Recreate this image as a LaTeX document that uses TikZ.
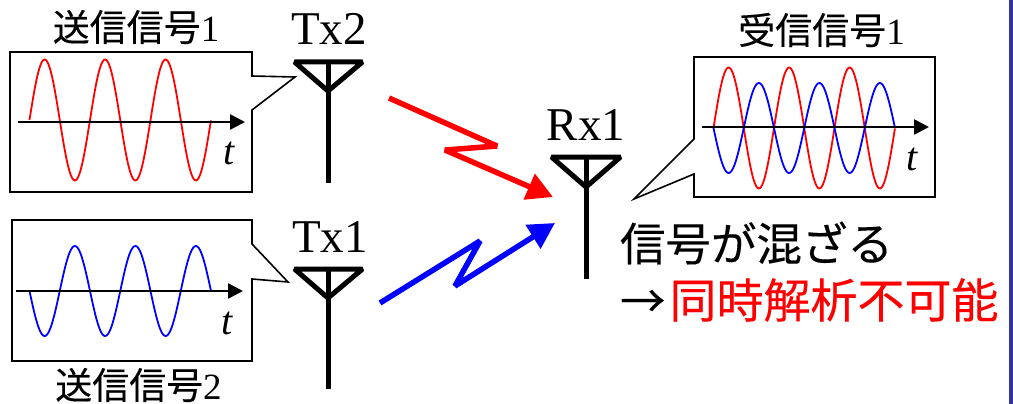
\documentclass[tikz,border=0pt]{standalone}
\usepackage{fontspec}
\setmainfont{Liberation Serif}
\newfontfamily\cjk[FakeBold=0.25]{Noto Sans CJK JP}
\usetikzlibrary{arrows.meta}
\tikzset{
  sigbox/.style={draw=black,line width=1.6pt,fill=white,line join=miter},
  axisline/.style={draw=black,line width=2.6pt,-{Triangle[length=15pt,width=15pt]}},
  antenna/.style={draw=black,line width=5pt,line join=bevel,line cap=butt},
  redwave/.style={draw=red,line width=1.8pt},
  bluewave/.style={draw=blue,line width=1.8pt},
  zigred/.style={draw=red,line width=5.5pt,line join=bevel,-{Triangle[length=26pt,width=27pt]}},
  zigblue/.style={draw=blue,line width=5.5pt,line join=bevel,-{Triangle[length=26pt,width=27pt]}},
  lab/.style={inner sep=0pt,outer sep=0pt,anchor=center},
  title/.style={lab,font=\fontsize{37}{40}\selectfont},
  antlabel/.style={lab,anchor=base,font=\fontsize{47}{50}\selectfont},
  tlabel/.style={lab,font=\fontsize{40}{44}\selectfont\itshape},
  bigtext/.style={inner sep=0pt,outer sep=0pt,anchor=west,font=\fontsize{45.5}{50}\selectfont}
}
\begin{document}
\begin{tikzpicture}[x=1pt,y=-1pt]
\useasboundingbox (0,0) rectangle (1013,404);
\fill[white] (0,0) rectangle (1013,404);
\fill[fill={rgb,255:red,51;green,51;blue,153}] (1009,0) rectangle (1013,404);

% titles
\node[title] (t1) at (136,27) {\cjk 送信信号\rmfamily 1};
\node[title] (t2) at (138.5,385) {\cjk 送信信号\rmfamily 2};
\node[title] (t3) at (821.5,30) {\cjk 受信信号\rmfamily 1};

% boxes with callouts
\draw[sigbox] (10,52) -- (252,52) -- (252,76) -- (295,77) -- (252,110) -- (252,192) -- (10,192) -- cycle;
\draw[sigbox] (12,220) -- (252,220) -- (252,244) -- (288,282) -- (252,279) -- (252,361) -- (12,361) -- cycle;
\draw[sigbox] (694,57) -- (935,57) -- (935,197) -- (694,197) -- (694,174) -- (634,199) -- (694,139) -- cycle;

% waves
\draw[redwave] plot[domain=0:3,samples=150] ({29.5+60.5*\x},{120-60.5*sin(360*\x)});
\draw[bluewave] plot[domain=0:3,samples=150] ({29.5+60.5*\x},{291+45*sin(360*\x)});
\draw[redwave] plot[domain=0:3,samples=150] ({713.5+60.5*\x},{128-60.5*sin(360*\x)});
\draw[bluewave] plot[domain=0:3,samples=150] ({713.5+60.5*\x},{128+45*sin(360*\x)});

% axes
\coordinate (a1s) at (18,122); \coordinate (a1e) at (245,122);
\coordinate (a2s) at (16,291); \coordinate (a2e) at (243,291);
\coordinate (a3s) at (702,127); \coordinate (a3e) at (929,127);
\draw[axisline] (a1s) -- (a1e);
\draw[axisline] (a2s) -- (a2e);
\draw[axisline] (a3s) -- (a3e);
\node[tlabel] (lt1) at (229,153) {t};
\node[tlabel] (lt2) at (227,323) {t};
\node[tlabel] (lt3) at (912,159) {t};

% antennas
\draw[antenna] (294.5,62) -- (362.5,62) -- (328,91) -- cycle;
\draw[antenna] (328,62) -- (328,183);
\draw[antenna] (294.5,269) -- (362.5,269) -- (328,298) -- cycle;
\draw[antenna] (328,269) -- (328,389);
\draw[antenna] (551.5,157) -- (620.5,157) -- (586,187) -- cycle;
\draw[antenna] (586,157) -- (586,279);

\node[antlabel] (tx2) at (329,45) {Tx2};
\node[antlabel] (tx1) at (330,252) {Tx1};
\node[antlabel] (rx1) at (586,140) {Rx1};

% zigzag arrows
\coordinate (r0) at (389,98); \coordinate (r1) at (497,146); \coordinate (r2) at (445,150); \coordinate (r3) at (553,197);
\coordinate (b0) at (380,303); \coordinate (b1) at (480,241); \coordinate (b2) at (455,286); \coordinate (b3) at (555,223);
\draw[zigred] (r0) -- (r1) -- (r2) -- (r3);
\draw[zigblue] (b0) -- (b1) -- (b2) -- (b3);

% text
\node[bigtext] (m1) at (620,243) {\cjk 信号が混ざる};
\node[bigtext] (m2) at (620,300) {{\cjk →}\hspace{4pt}{\cjk\color{red}\fontsize{47}{50}\selectfont 同時解析不可能}};
\end{tikzpicture}
\end{document}
